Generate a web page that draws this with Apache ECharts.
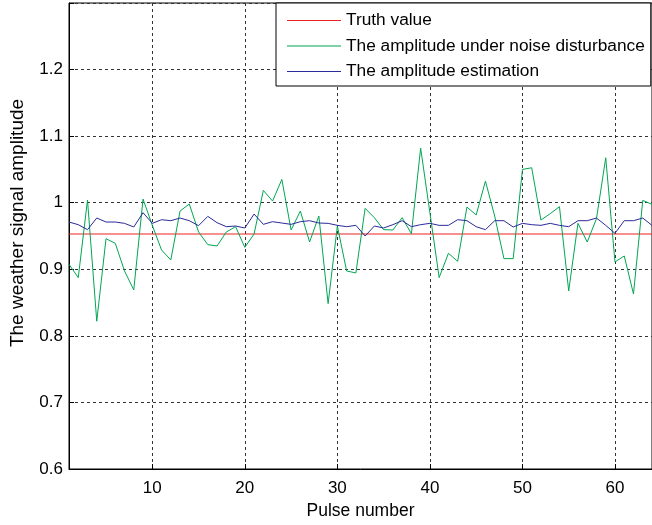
<!DOCTYPE html>
<html>
<head>
<meta charset="utf-8">
<script src="https://cdn.jsdelivr.net/npm/echarts@6/dist/echarts.min.js"></script>
<style>
html,body{margin:0;padding:0;background:#fff;}
#chart{width:652px;height:525px;}
</style>
</head>
<body>
<div id="chart"></div>
<script>
// ---- data ----
var pulses = [];
for (var k = 1; k <= 64; k++) pulses.push(k);
var truthValue = 0.953;
var noisyAmplitude = [
  0.9075, 0.8875, 1.004, 0.822, 0.946, 0.939, 0.8975, 0.869, 1.0055, 0.966,
  0.929, 0.914, 0.9875, 0.998, 0.956, 0.937, 0.935, 0.956, 0.964, 0.933,
  0.953, 1.0185, 1.0025, 1.035, 0.959, 0.9875, 0.941, 0.98, 0.8485, 0.965,
  0.8975, 0.8945, 0.9915, 0.9775, 0.9595, 0.959, 0.9775, 0.9535, 1.082, 0.985,
  0.8875, 0.924, 0.912, 0.9935, 0.9815, 1.0325, 0.98, 0.916, 0.916, 1.05,
  1.0525, 0.974, 0.9835, 0.994, 0.8675, 0.969, 0.941, 0.976, 1.0675, 0.911,
  0.92, 0.863, 1.0035, 0.9975
];
var estimatedAmplitude = [
  0.971, 0.967, 0.9595, 0.977, 0.971, 0.971, 0.969, 0.9635, 0.985, 0.969,
  0.9745, 0.973, 0.977, 0.973, 0.9655, 0.9795, 0.970, 0.964, 0.965, 0.962,
  0.983, 0.9675, 0.9715, 0.9695, 0.9675, 0.9715, 0.973, 0.9695, 0.969, 0.966,
  0.964, 0.966, 0.95, 0.965, 0.962, 0.967, 0.973, 0.964, 0.967, 0.969,
  0.966, 0.966, 0.9745, 0.973, 0.964, 0.9595, 0.973, 0.973, 0.9635, 0.969,
  0.967, 0.966, 0.969, 0.966, 0.964, 0.973, 0.973, 0.977, 0.966, 0.954,
  0.973, 0.973, 0.977, 0.966
];
var xTicks = [10, 20, 30, 40, 50, 60];
var seriesNames = ['Truth value', 'The amplitude under noise disturbance', 'The amplitude estimation'];

function pairs(xs, ys) { return xs.map(function (x, i) { return [x, ys[i]]; }); }

var FONT = 'Liberation Sans';
var chart = echarts.init(document.getElementById('chart'), null, {renderer: 'canvas'});
chart.setOption({
  animation: false,
  backgroundColor: '#fff',
  grid: {left: 67, right: -4, top: 3, bottom: 56, show: true, borderColor: '#000', borderWidth: 1, backgroundColor: 'transparent'},
  legend: {
    orient: 'vertical', left: 276, top: 3,
    padding: [9, 6, 6, 11],
    itemGap: 8.5, itemWidth: 54, itemHeight: 1, icon: 'rect',
    backgroundColor: '#fff', borderColor: '#000', borderWidth: 1, borderRadius: 0,
    textStyle: {fontFamily: FONT, fontSize: 17.3, color: '#000'},
    data: seriesNames
  },
  xAxis: {
    type: 'value', min: 1, max: 64,
    name: 'Pulse number', nameLocation: 'middle', nameGap: 31,
    nameTextStyle: {fontFamily: FONT, fontSize: 17.5, color: '#000'},
    axisLine: {show: true, lineStyle: {color: '#000', width: 1}},
    axisTick: {show: true, inside: true, length: 5, customValues: xTicks, lineStyle: {color: '#000'}},
    axisLabel: {customValues: xTicks, fontFamily: FONT, fontSize: 17, color: '#000', margin: 11},
    splitLine: {show: true, lineStyle: {color: '#333', type: [3, 3], width: 1}}
  },
  yAxis: {
    type: 'value', min: 0.6, max: 1.3, interval: 0.1,
    name: 'The weather signal amplitude', nameLocation: 'middle', nameGap: 42,
    nameTextStyle: {fontFamily: FONT, fontSize: 19, color: '#000', padding: [0, 0, 0, 26]},
    axisLine: {show: true, lineStyle: {color: '#000', width: 1}},
    axisTick: {show: true, inside: true, length: 5, lineStyle: {color: '#000'}},
    axisLabel: {fontFamily: FONT, fontSize: 17, color: '#000', margin: 6,
      formatter: function (v) { var r = Math.round(v * 10) / 10; return r >= 1.3 ? '' : String(r); }},
    splitLine: {show: true, lineStyle: {color: '#333', type: [3, 3], width: 1}}
  },
  series: [
    {name: seriesNames[0], type: 'line', data: [[1, truthValue], [64, truthValue]], showSymbol: false, symbol: 'none',
      lineStyle: {color: '#ee2222', width: 1}, itemStyle: {color: '#ee2222'}, z: 3},
    {name: seriesNames[1], type: 'line', data: pairs(pulses, noisyAmplitude), showSymbol: false, symbol: 'none',
      lineStyle: {color: '#00a651', width: 1}, itemStyle: {color: '#00a651'}, z: 4},
    {name: seriesNames[2], type: 'line', data: pairs(pulses, estimatedAmplitude), showSymbol: false, symbol: 'none',
      lineStyle: {color: '#2a2a9a', width: 1}, itemStyle: {color: '#2a2a9a'}, z: 5}
  ]
});
</script>
</body>
</html>
